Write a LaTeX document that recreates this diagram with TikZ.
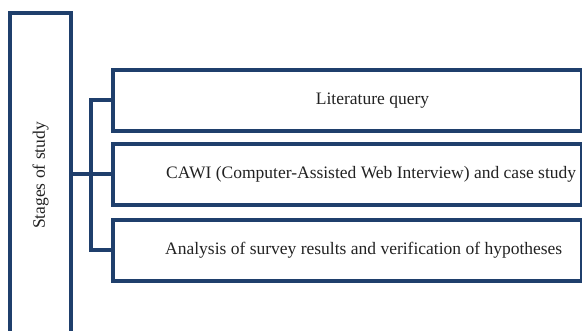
\documentclass[tikz,border=0pt]{standalone}
\usepackage{fontspec}
\setmainfont{Liberation Serif}
\definecolor{navy}{HTML}{1F3F6C}
\definecolor{txt}{HTML}{222222}
\begin{document}
\begin{tikzpicture}[x=1pt,y=-1pt,
  frame/.style={draw=navy,line width=4pt,rectangle,inner sep=0pt},
  stagebox/.style={frame,minimum width=469pt,minimum height=61pt,anchor=west},
  lbl/.style={text=txt,font=\fontsize{17.5}{20}\selectfont,inner sep=0pt},
  conn/.style={draw=navy,line width=4pt}]
\useasboundingbox (0,0) rectangle (582,331);
\clip (0,0) rectangle (582,331);
\node[frame,minimum width=61pt,minimum height=325pt] (main) at (40.5,175.5) {};
\node[lbl,rotate=90] (mainlbl) at (main.center) {Stages of study};
\node[stagebox] (s1) at (111,100.5) {};
\node[stagebox] (s2) at (111,174.5) {};
\node[stagebox] (s3) at (111,250.5) {};
\node[lbl] (t1) at (372.5,100.5) {Literature query};
\node[lbl,anchor=west] (t2) at (166,174.5) {CAWI (Computer-Assisted Web Interview) and case study};
\node[lbl,anchor=west] (t3) at (165,250.5) {Analysis of survey results and verification of hypotheses};
\coordinate (bt) at (91.3,100.5);
\coordinate (bb) at (91.3,250.5);
\draw[conn] (main.east |- s2.west) -- (s2.west);
\draw[conn] (s1.west) -- (bt) -- (bb) -- (s3.west);
\end{tikzpicture}
\end{document}
